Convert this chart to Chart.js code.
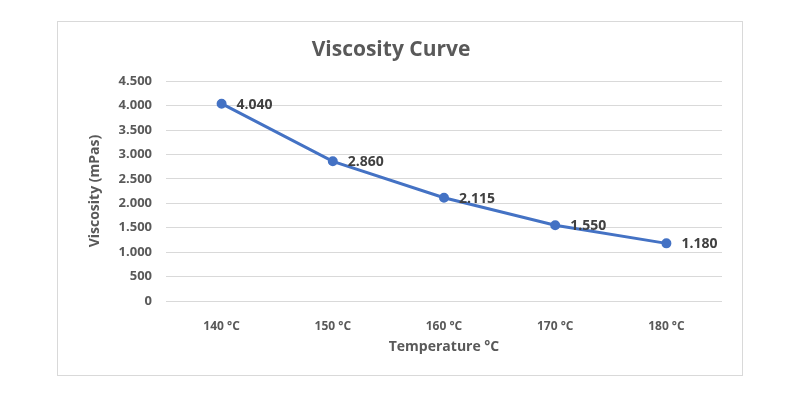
<!DOCTYPE html>
<html>
<head>
<meta charset="utf-8">
<script src="https://cdn.jsdelivr.net/npm/chart.js@4"></script>
<style>
  html, body { margin: 0; padding: 0; background: #fff; }
  #wrap { position: relative; width: 800px; height: 399px; }
  #frame { position: absolute; left: 57px; top: 21px; width: 684px; height: 353px; border: 1px solid #d9d9d9; }
  canvas { position: absolute; left: 0; top: 0; }
</style>
</head>
<body>
<div id="wrap">
  <div id="frame"></div>
  <canvas id="chart" width="800" height="399"></canvas>
</div>
<script>
// dati
const temperatures = ['140 °C', '150 °C', '160 °C', '170 °C', '180 °C'];
const viscosity = [4040, 2860, 2115, 1550, 1180];
const yTicks = [0, 500, 1000, 1500, 2000, 2500, 3000, 3500, 4000, 4500];

const grey = '#595959';
const font = "'Open Sans', 'DejaVu Sans', sans-serif";

// separatore delle migliaia con il punto
function formatNum(v) {
    return String(v).replace(/\B(?=(\d{3})+(?!\d))/g, '.');
}

// etichette dei valori accanto ai punti
const valueLabels = {
    id: 'valueLabels',
    afterDatasetsDraw(chart) {
        const ctx = chart.ctx;
        const meta = chart.getDatasetMeta(0);
        ctx.save();
        ctx.font = "bold 14px " + font;
        ctx.fillStyle = '#404040';
        ctx.textAlign = 'left';
        ctx.textBaseline = 'middle';
        meta.data.forEach((pt, i) => {
            ctx.fillText(formatNum(viscosity[i]), pt.x + 15, pt.y + 1);
        });
        ctx.restore();
    }
};

new Chart(document.getElementById('chart').getContext('2d'), {
    type: 'line',
    data: {
        labels: temperatures,
        datasets: [{
            data: viscosity,
            borderColor: '#4472C4',
            backgroundColor: '#4472C4',
            borderWidth: 3,
            pointRadius: 3.5,
            pointHoverRadius: 3.5,
            tension: 0,
            fill: false
        }]
    },
    options: {
        responsive: false,
        animation: false,
        layout: { padding: { left: 60, right: 78, top: 30, bottom: 40 } },
        plugins: {
            legend: { display: false },
            tooltip: { enabled: false },
            title: {
                display: true,
                text: 'Viscosity Curve',
                color: grey,
                font: { family: font, size: 21, weight: 'bold' },
                padding: { top: 7, bottom: 19 }
            }
        },
        scales: {
            x: {
                offset: true,
                grid: { display: false },
                border: { display: false },
                ticks: { color: grey, font: { family: font, size: 12, weight: 'bold' }, padding: 10 },
                title: {
                    display: true,
                    text: 'Temperature °C',
                    color: grey,
                    font: { family: font, size: 14, weight: 'bold' },
                    padding: { top: 4 }
                },
                afterFit: s => { s.height = 58; }
            },
            y: {
                min: 0,
                max: 4500,
                afterBuildTicks: s => { s.ticks = yTicks.map(v => ({ value: v })); },
                grid: { color: '#d9d9d9', drawTicks: false },
                border: { display: false },
                ticks: {
                    color: grey,
                    font: { family: font, size: 13, weight: 'bold' },
                    padding: 14,
                    callback: v => formatNum(v)
                },
                title: {
                    display: true,
                    text: 'Viscosity (mPas)',
                    color: grey,
                    font: { family: font, size: 14, weight: 'bold' },
                    padding: { top: 27 }
                },
                afterFit: s => { s.width = 106; }
            }
        }
    },
    plugins: [valueLabels]
});
</script>
</body>
</html>
